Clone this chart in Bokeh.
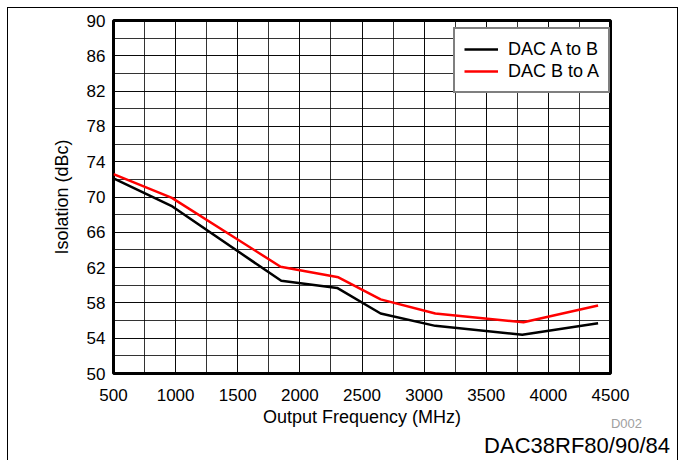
from bokeh.plotting import figure
from bokeh.models import Range1d, FixedTicker, Legend, LegendItem, Div
from bokeh.layouts import column
from bokeh.embed import file_html
from bokeh.resources import INLINE

# Data
freq_ab = [500, 965, 1850, 2300, 2650, 3090, 3790, 4400]
iso_ab = [72.1, 69.0, 60.5, 59.7, 56.8, 55.4, 54.4, 55.7]
freq_ba = [500, 970, 1845, 2310, 2650, 3090, 3800, 4400]
iso_ba = [72.6, 69.9, 62.1, 60.9, 58.4, 56.8, 55.8, 57.7]

x_ticks = [500, 1000, 1500, 2000, 2500, 3000, 3500, 4000, 4500]
x_minor = [500 + 250 * i for i in range(17)]
y_ticks = [50, 54, 58, 62, 66, 70, 74, 78, 82, 86, 90]
y_minor = [50 + 2 * i for i in range(21)]

series_labels = ["DAC A to B", "DAC B to A"]
figure_code = "D002"
device_name = "DAC38RF80/90/84"

FONT = "Liberation Sans"

p = figure(width=671, height=453, output_backend="svg", toolbar_location=None,
           x_range=Range1d(500, 4500), y_range=Range1d(50, 90),
           min_border_left=105, min_border_right=69, min_border_top=12, min_border_bottom=88,
           background_fill_color="white", border_fill_color="white")
p.styles = {"margin-left": "7px", "margin-top": "7px",
            "border-top": "1px solid black", "border-left": "1px solid black",
            "border-right": "1px solid black"}

p.xaxis.ticker = FixedTicker(ticks=x_ticks, minor_ticks=x_minor)
p.yaxis.ticker = FixedTicker(ticks=y_ticks, minor_ticks=y_minor)

for g in (p.xgrid, p.ygrid):
    g.grid_line_color = "black"
    g.grid_line_alpha = 0.8
    g.grid_line_width = 1
    g.minor_grid_line_color = "black"
    g.minor_grid_line_alpha = 0.8
    g.minor_grid_line_width = 1

for ax in (p.xaxis, p.yaxis):
    ax.axis_line_color = None
    ax.major_tick_out = 0
    ax.major_tick_in = 0
    ax.minor_tick_out = 0
    ax.minor_tick_in = 0
    ax.major_label_text_font = FONT
    ax.major_label_text_font_size = "17px"
    ax.major_label_text_color = "black"
    ax.axis_label_text_font = FONT
    ax.axis_label_text_font_size = "18px"
    ax.axis_label_text_font_style = "normal"
    ax.axis_label_text_color = "black"

p.xaxis.axis_label = "Output Frequency (MHz)"
p.yaxis.axis_label = "Isolation (dBc)"
p.xaxis.major_label_standoff = 15
p.xaxis.axis_label_standoff = 3
p.yaxis.major_label_standoff = 8
p.yaxis.axis_label_standoff = 12

p.outline_line_color = "black"
p.outline_line_width = 3
p.outline_line_alpha = 1

r1 = p.line(freq_ab, iso_ab, line_color="black", line_width=2.5)
r2 = p.line(freq_ba, iso_ba, line_color="#ff0000", line_width=2.5)

legend = Legend(items=[LegendItem(label=series_labels[0], renderers=[r1]),
                       LegendItem(label=series_labels[1], renderers=[r2])],
                location=(340, 280))
legend.label_text_font = FONT
legend.label_text_font_size = "18px"
legend.label_text_color = "black"
legend.glyph_width = 34
legend.glyph_height = 22
legend.label_height = 22
legend.label_standoff = 10
legend.spacing = 0
legend.padding = 9
legend.border_line_color = "black"
legend.border_line_width = 2
legend.background_fill_color = "white"
legend.background_fill_alpha = 1
p.add_layout(legend)

footer_html = (
    '<div style="position:relative;width:681px;height:46px;'
    "font-family:'Liberation Sans',Arial,sans-serif;\">"
    '<span style="position:absolute;right:44px;top:3px;font-size:13px;line-height:1;'
    'color:#a0a0a0;white-space:nowrap;">' + figure_code + '</span>'
    '<span style="position:absolute;right:16px;top:21px;font-size:22px;line-height:1;'
    'color:#000000;white-space:nowrap;">' + device_name + '</span></div>'
)
footer = Div(text=footer_html, width=681, height=46,
             styles={"margin-top": "-46px", "position": "relative", "z-index": "5"})

layout = column(p, footer)

open("out.html", "w").write(file_html(layout, INLINE))
